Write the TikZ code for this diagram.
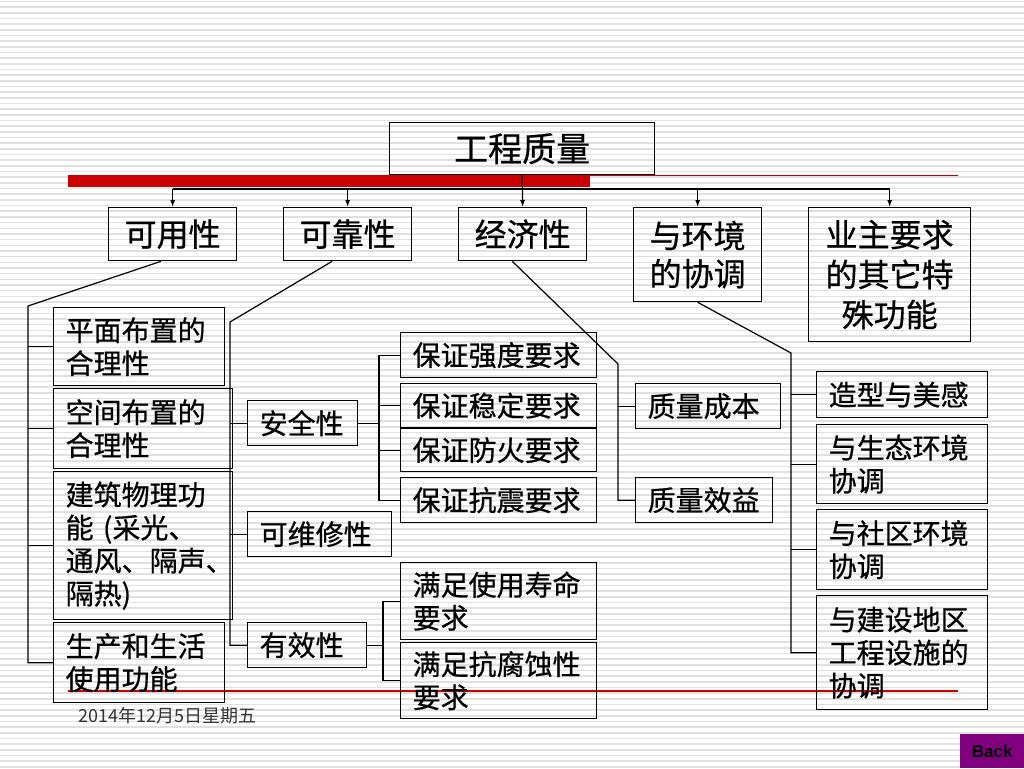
\documentclass[tikz,border=0pt]{standalone}
\usepackage{fontspec}
\setmainfont{Noto Sans CJK SC}[FakeBold=0.6]
\newfontfamily\datefont{Noto Sans CJK SC}
\newfontfamily\backfont{Liberation Sans}
\usetikzlibrary{arrows.meta,calc}
\definecolor{barred}{RGB}{204,0,0}
\definecolor{stripegray}{RGB}{224,224,224}
\definecolor{backpurple}{RGB}{128,0,128}

\begin{document}
\begin{tikzpicture}[x=1pt, y=-1pt,
  stripe/.style={stripegray, line width=1.6pt},
  box/.style={draw, line width=1.3pt, anchor=north west, inner xsep=0pt, inner ysep=0pt},
  bigbox/.style={box, align=center, font=\fontsize{32}{38}\selectfont},
  smallbox/.style={box, align=left, font=\fontsize{28}{33}\selectfont},
  link/.style={line width=1.2pt},
  drop/.style={link, -{Latex[length=7pt,width=5pt]}}]
  \useasboundingbox (0,0) rectangle (1024,768);

  % Fondo rayado y barras rojas
  \fill[white] (0,0) rectangle (1024,768);
  \foreach \i in {0,...,135}
    \draw[stripe] (0,{1.5+\i*5.67}) -- (1024,{1.5+\i*5.67});
  \fill[barred] (68,175) rectangle (590,187);
  \draw[barred, line width=1.2pt] (590,175.6) -- (958,175.6);
  \draw[barred, line width=1.2pt] (68,691) -- (958,691);

  % Raiz y primer nivel
  \node[bigbox, minimum width=265pt, minimum height=52pt, font=\fontsize{34}{40}\selectfont] (gcz) at (389,122) {工程质量};
  \node[bigbox, minimum width=128pt, minimum height=53pt] (kyx) at (108,207) {可用性};
  \node[bigbox, minimum width=128pt, minimum height=53pt] (kkx) at (283,207) {可靠性};
  \node[bigbox, minimum width=128pt, minimum height=53pt] (jjx) at (458,207) {经济性};
  \node[bigbox, minimum width=128pt, minimum height=94pt] (hjx) at (633,207) {与环境\\的协调};
  \node[bigbox, minimum width=162pt, minimum height=134pt, font=\fontsize{32}{40}\selectfont] (yzx) at (808,207) {业主要求\\的其它特\\殊功能};

  % Columna izquierda
  \node[smallbox, minimum width=171pt, minimum height=78pt, text width=147pt] (pmb) at (53,307) {平面布置的\\合理性};
  \node[smallbox, minimum width=179pt, minimum height=80pt, text width=155pt] (kjb) at (53,388) {空间布置的\\合理性};
  \node[smallbox, minimum width=179pt, minimum height=148pt, text width=155pt] (jzb) at (53,471) {建筑物理功\\能 (采光、\\通风、隔声、\\隔热)};
  \node[smallbox, minimum width=171pt, minimum height=80pt, text width=147pt] (scs) at (53,622) {生产和生活\\使用功能};

  % Segundo nivel
  \node[smallbox, minimum width=110pt, minimum height=45pt, text width=86pt] (aqx) at (247,400) {安全性};
  \node[smallbox, minimum width=144pt, minimum height=45pt, text width=120pt] (wxx) at (247,511) {可维修性};
  \node[smallbox, minimum width=119pt, minimum height=45pt, text width=95pt] (yxx) at (247,622) {有效性};

  \node[smallbox, minimum width=196pt, minimum height=45pt, text width=172pt] (bz1) at (400,332) {保证强度要求};
  \node[smallbox, minimum width=196pt, minimum height=44pt, text width=172pt] (bz2) at (400,383) {保证稳定要求};
  \node[smallbox, minimum width=196pt, minimum height=43pt, text width=172pt] (bz3) at (400,428) {保证防火要求};
  \node[smallbox, minimum width=196pt, minimum height=45pt, text width=172pt] (bz4) at (400,477) {保证抗震要求};
  \node[smallbox, minimum width=196pt, minimum height=77pt, text width=172pt] (mz1) at (400,562) {满足使用寿命\\要求};
  \node[smallbox, minimum width=196pt, minimum height=76pt, text width=172pt] (mz2) at (400,642) {满足抗腐蚀性\\要求};

  \node[smallbox, minimum width=145pt, minimum height=45pt, text width=121pt] (cbx) at (635,383) {质量成本};
  \node[smallbox, minimum width=137pt, minimum height=45pt, text width=113pt] (xyx) at (635,477) {质量效益};

  \node[smallbox, minimum width=171pt, minimum height=46pt, text width=147pt] (hj1) at (816,371) {造型与美感};
  \node[smallbox, minimum width=171pt, minimum height=79pt, text width=147pt] (hj2) at (816,424) {与生态环境\\协调};
  \node[smallbox, minimum width=171pt, minimum height=80pt, text width=147pt] (hj3) at (816,509) {与社区环境\\协调};
  \node[smallbox, minimum width=171pt, minimum height=114pt, text width=147pt] (hj4) at (816,595) {与建设地区\\工程设施的\\协调};

  % Flechas de reparto
  \coordinate (bus) at (521,189);
  \draw[link] (kyx.north |- bus) -- (yzx.north |- bus);
  \draw[drop] (gcz.south) -- (jjx.north);
  \foreach \n in {kyx,kkx,hjx,yzx}
    \draw[drop] (\n.north |- bus) -- (\n.north);

  % Enlaces
  \coordinate (lbus) at (28,306);
  \draw[link] ($(kyx.south west)!0.41!(kyx.south east)$) -- (lbus) |- (scs.west);
  \foreach \n in {pmb,kjb,jzb}
    \draw[link] (lbus |- \n.west) -- (\n.west);

  \coordinate (rbus) at (230,322);
  \draw[link] ($(kkx.south west)!0.38!(kkx.south east)$) -- (rbus) |- (yxx.west);
  \draw[link] (rbus |- aqx.west) -- (aqx.west);
  \draw[link] (rbus |- wxx.west) -- (wxx.west);

  \coordinate (abus) at (379,422);
  \draw[link] (aqx.east) -- (aqx.east -| abus);
  \draw[link] (bz1.west) -| (abus |- bz4.west) -- (bz4.west);
  \draw[link] (abus |- bz2.west) -- (bz2.west);
  \draw[link] (abus |- bz3.west) -- (bz3.west);

  \coordinate (ebus) at (383,643);
  \draw[link] (yxx.east) -- (yxx.east -| ebus);
  \draw[link] (mz1.west) -| (ebus |- mz2.west) -- (mz2.west);

  \coordinate (jbus) at (618,364);
  \draw[link] ($(jjx.south west)!0.42!(jjx.south east)$) -- (jbus) |- (xyx.west);
  \draw[link] (jbus |- cbx.west) -- (cbx.west);

  \coordinate (hbus) at (791,353);
  \draw[link] (hjx.south) -- (hbus) |- (hj4.west);
  \foreach \n in {hj1,hj2,hj3}
    \draw[link] (hbus |- \n.west) -- (\n.west);

  % Pie
  \node[anchor=west, inner sep=0pt, text=black!80, font=\datefont\fontsize{18}{20}\selectfont] (date) at (78,716) {2014年12月5日星期五};
  \node[anchor=north west, fill=backpurple, minimum width=64pt, minimum height=34pt, inner sep=0pt, font=\backfont\bfseries\fontsize{17}{20}\selectfont] (back) at (960,734) {Back};
\end{tikzpicture}
\end{document}
